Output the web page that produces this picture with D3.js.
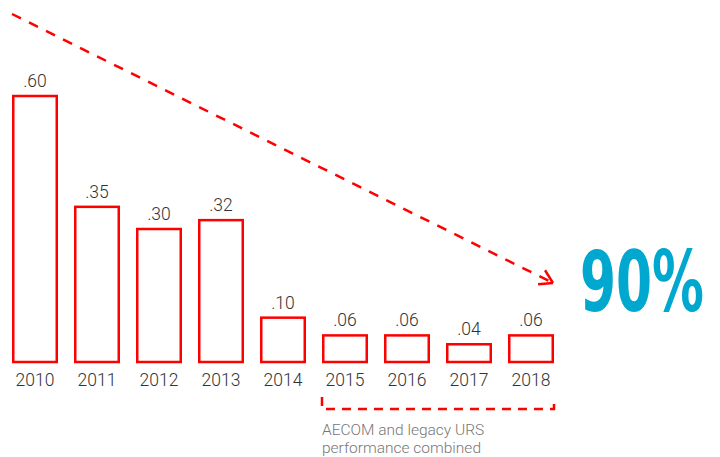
<!DOCTYPE html>
<html>
<head>
<meta charset="utf-8">
<script src="https://cdn.jsdelivr.net/npm/d3@7"></script>
<style>
  body { margin: 0; background: #fff; }
  svg { display: block; }
</style>
</head>
<body>
<svg id="chart" width="720" height="457"></svg>
<script>
// data
const years = ["2010", "2011", "2012", "2013", "2014", "2015", "2016", "2017", "2018"];
const rates = [0.60, 0.35, 0.30, 0.32, 0.10, 0.06, 0.06, 0.04, 0.06];
const rateLabels = [".60", ".35", ".30", ".32", ".10", ".06", ".06", ".04", ".06"];
const combinedYears = ["2015", "2018"];
const noteLines = ["AECOM and legacy URS", "performance combined"];
const headline = "90%";

const red = "#ff0000";
const svg = d3.select("#chart");

const x = d3.scaleBand()
  .domain(years)
  .range([12, 554])
  .paddingInner(0.258)
  .paddingOuter(0);

const y = d3.scaleLinear()
  .domain([0, 0.6])
  .range([362, 96]);

const bars = svg.append("g");

bars.selectAll("rect")
  .data(rates)
  .enter()
  .append("rect")
  .attr("x", (d, i) => x(years[i]) + 1.25)
  .attr("y", d => y(d))
  .attr("width", x.bandwidth() - 2.5)
  .attr("height", d => y(0) - y(d))
  .attr("fill", "none")
  .attr("stroke", red)
  .attr("stroke-width", 2.5);

// value labels
bars.selectAll("text.val")
  .data(rates)
  .enter()
  .append("text")
  .attr("class", "val")
  .attr("x", (d, i) => x(years[i]) + x.bandwidth() / 2)
  .attr("y", d => y(d) - 9)
  .attr("text-anchor", "middle")
  .style("font-family", "Roboto, sans-serif")
  .style("font-weight", 300)
  .style("font-size", "17.5px")
  .style("fill", "#333")
  .text((d, i) => rateLabels[i]);

// year labels
bars.selectAll("text.yr")
  .data(years)
  .enter()
  .append("text")
  .attr("class", "yr")
  .attr("x", d => x(d) + x.bandwidth() / 2)
  .attr("y", 386)
  .attr("text-anchor", "middle")
  .style("font-family", "Roboto, sans-serif")
  .style("font-weight", 300)
  .style("font-size", "17.5px")
  .style("fill", "#333")
  .text(d => d);

// trend arrow
const x0 = 12, y0 = 14, x1 = 553, y1 = 283;
svg.append("line")
  .attr("x1", x0).attr("y1", y0)
  .attr("x2", x1).attr("y2", y1)
  .attr("stroke", red)
  .attr("stroke-width", 2.5)
  .attr("stroke-dasharray", "10,9");

const ang = Math.atan2(y1 - y0, x1 - x0);
const headLen = 15;
[0.55, -0.55].forEach(off => {
  svg.append("line")
    .attr("x1", x1).attr("y1", y1)
    .attr("x2", x1 - headLen * Math.cos(ang + off))
    .attr("y2", y1 - headLen * Math.sin(ang + off))
    .attr("stroke", red)
    .attr("stroke-width", 2.5);
});

// headline - small font stretched vertically to look condensed
svg.append("text")
  .attr("transform", "translate(580,311) scale(1,1.5)")
  .attr("textLength", 124)
  .attr("lengthAdjust", "spacingAndGlyphs")
  .style("font-family", "'DejaVu Sans Condensed', 'Liberation Sans Narrow', sans-serif")
  .style("font-weight", "bold")
  .style("font-size", "56px")
  .style("fill", "#00a8cf")
  .text(headline);

// bracket under 2015-2018
const bx0 = x(combinedYears[0]), bx1 = x(combinedYears[1]) + x.bandwidth();
svg.append("path")
  .attr("d", `M${bx0},397 V409 H${bx1} V397`)
  .attr("fill", "none")
  .attr("stroke", red)
  .attr("stroke-width", 2.5)
  .attr("stroke-dasharray", "9,7");

svg.selectAll("text.note")
  .data(noteLines)
  .enter()
  .append("text")
  .attr("class", "note")
  .attr("x", bx0)
  .attr("y", (d, i) => 435 + i * 18)
  .style("font-family", "Roboto, sans-serif")
  .style("font-weight", 300)
  .style("font-size", "15.5px")
  .style("fill", "#777")
  .text(d => d);
</script>
</body>
</html>
